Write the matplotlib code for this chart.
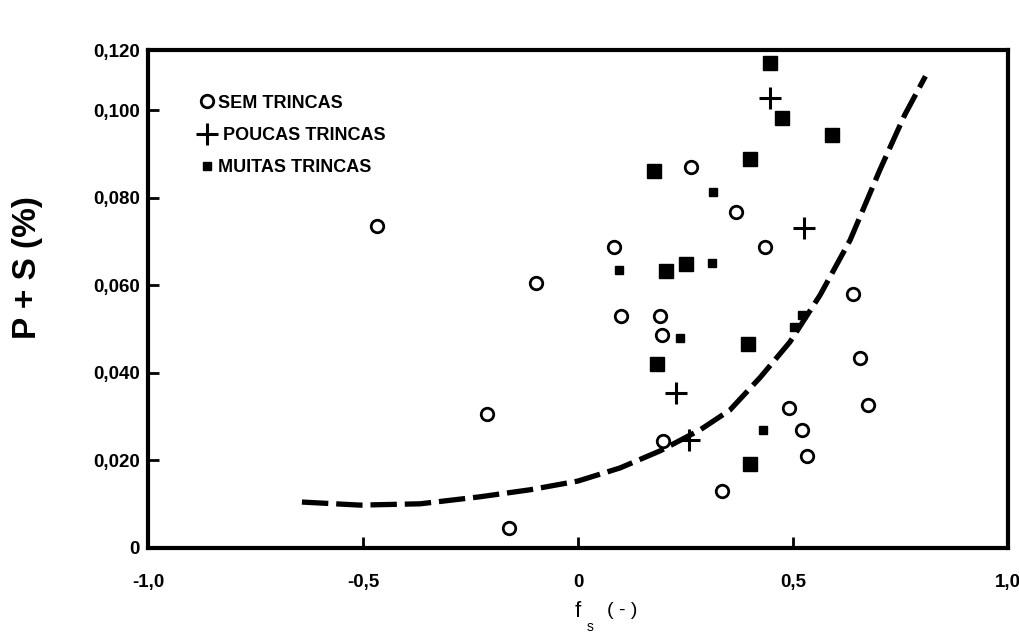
import matplotlib.pyplot as plt

# SEM TRINCAS (open circles)
sem_x = [-0.467, -0.098, -0.212, -0.160, 0.084, 0.100, 0.190, 0.195, 0.198, 0.263,
         0.367, 0.435, 0.335, 0.490, 0.520, 0.533, 0.640, 0.656, 0.674]
sem_y = [0.0736, 0.0606, 0.0306, 0.0046, 0.0688, 0.0530, 0.0530, 0.0487, 0.0245, 0.0871,
         0.0768, 0.0688, 0.0130, 0.0320, 0.0270, 0.0210, 0.0580, 0.0435, 0.0327]

# POUCAS TRINCAS (crosses)
poucas_x = [0.447, 0.526, 0.228, 0.258]
poucas_y = [0.1029, 0.0731, 0.0354, 0.0247]

# MUITAS TRINCAS (filled squares, large and small)
muitas_x = [0.447, 0.474, 0.591, 0.400, 0.177, 0.205, 0.251, 0.395, 0.184, 0.400,
            0.095, 0.314, 0.312, 0.237, 0.430, 0.502, 0.521]
muitas_y = [0.1109, 0.0983, 0.0944, 0.0889, 0.0862, 0.0633, 0.0649, 0.0466, 0.0420, 0.0192,
            0.0635, 0.0814, 0.0651, 0.0480, 0.0270, 0.0505, 0.0532]
muitas_big = [True] * 10 + [False] * 7

# fitted curve
curve_x = [-0.642, -0.507, -0.367, -0.228, -0.112, 0.0, 0.098, 0.191, 0.284, 0.353,
           0.423, 0.493, 0.563, 0.633, 0.702, 0.760, 0.808]
curve_y = [0.0105, 0.0098, 0.0101, 0.0117, 0.0133, 0.0153, 0.0183, 0.0222, 0.0270, 0.0315,
           0.0389, 0.0471, 0.0578, 0.0704, 0.0864, 0.0990, 0.1078]

yticks = [0, 0.02, 0.04, 0.06, 0.08, 0.10]
ytick_labels = ['0', '0,020', '0,040', '0,060', '0,080', '0,100']
xticks = [-1.0, -0.5, 0, 0.5, 1.0]
xtick_labels = ['-1,0', '-0,5', '0', '0,5', '1,0']
ytop = 0.1138

plt.rcParams['font.family'] = ['Liberation Sans', 'DejaVu Sans']

fig = plt.figure(figsize=(10.2, 6.37), dpi=100)
ax = fig.add_axes([148 / 1020, 89 / 637, 860 / 1020, 498 / 637])

ax.plot(curve_x, curve_y, color='black', lw=3.8, dashes=(5, 1.5), zorder=2)

ax.plot(sem_x, sem_y, 'o', ms=9, mfc='white', mec='black', mew=2, ls='none',
        label='SEM TRINCAS', zorder=3)
ax.plot(poucas_x, poucas_y, '+', ms=16, mec='black', mew=2.2, ls='none',
        label=' POUCAS TRINCAS', zorder=3)
big_x = [x for x, b in zip(muitas_x, muitas_big) if b]
big_y = [y for y, b in zip(muitas_y, muitas_big) if b]
small_x = [x for x, b in zip(muitas_x, muitas_big) if not b]
small_y = [y for y, b in zip(muitas_y, muitas_big) if not b]
ax.plot(big_x, big_y, 's', ms=10, color='black', ls='none', zorder=3)
ax.plot(small_x, small_y, 's', ms=5.5, color='black', ls='none', zorder=3)
# legend handle for the filled squares
ax.plot([], [], 's', ms=6, color='black', ls='none', label='MUITAS TRINCAS')

ax.set_xlim(-1.0, 1.0)
ax.set_ylim(0, ytop)
ax.set_xticks(xticks)
ax.set_xticklabels(xtick_labels)
ax.set_yticks(yticks + [ytop])
ax.set_yticklabels(ytick_labels + ['0,120'])

for s in ax.spines.values():
    s.set_linewidth(3)
ax.tick_params(direction='in', length=8, width=2, labelsize=13.5)
ax.tick_params(axis='x', pad=19)
ax.tick_params(axis='y', pad=6)
for lab in ax.get_xticklabels() + ax.get_yticklabels():
    lab.set_fontweight('bold')

fig.text(28 / 1020, 1 - 268 / 637, 'P + S (%)', fontsize=24, fontweight='bold',
         rotation=90, ha='center', va='center')
ax.text(0.0, -0.0146, 'f', fontsize=16, ha='center', va='center', clip_on=False)
ax.text(0.028, -0.0180, 's', fontsize=10, ha='center', va='center', clip_on=False)
ax.text(0.102, -0.0142, '( - )', fontsize=14, ha='center', va='center', clip_on=False)

leg = ax.legend(loc='upper left', bbox_to_anchor=(0.05, 0.925), frameon=False,
                handletextpad=0.1, labelspacing=0.85, handlelength=1.0,
                borderaxespad=0, prop={'weight': 'bold', 'size': 13})

fig.savefig('out.png', dpi=100)
